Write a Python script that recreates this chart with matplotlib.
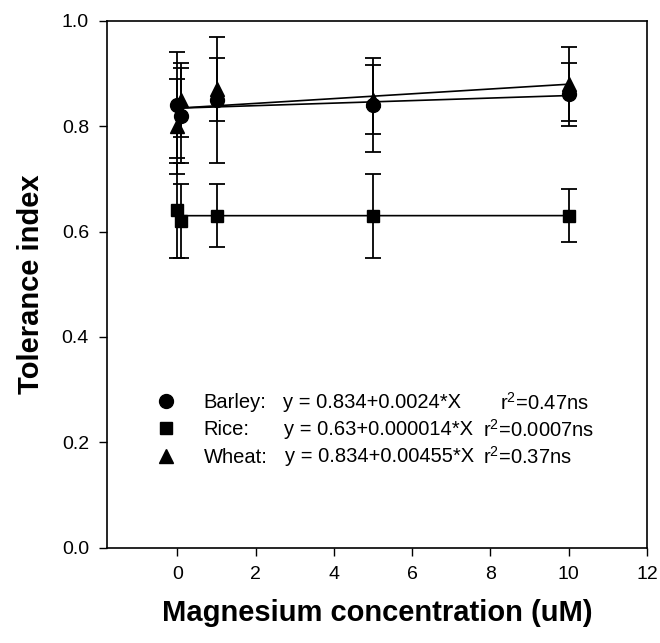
import matplotlib
matplotlib.use('Agg')
import matplotlib.pyplot as plt
import matplotlib.lines as mlines

plt.rcParams['font.family'] = ['Liberation Sans', 'DejaVu Sans']
plt.rcParams['mathtext.fontset'] = 'custom'
plt.rcParams['mathtext.rm'] = 'Liberation Sans'
plt.rcParams['mathtext.it'] = 'Liberation Sans:italic'

# magnesium concentrations (uM)
conc = [0, 0.1, 1, 5, 10]

# tolerance index per crop, with error bars
barley = [0.84, 0.82, 0.85, 0.84, 0.86]
barley_err = [0.10, 0.09, 0.12, 0.09, 0.06]
rice = [0.64, 0.62, 0.63, 0.63, 0.63]
rice_err = [0.09, 0.07, 0.06, 0.08, 0.05]
wheat = [0.80, 0.85, 0.87, 0.85, 0.88]
wheat_err = [0.09, 0.07, 0.06, 0.065, 0.07]

# regression fits: intercept, slope
fits = {'Barley': (0.834, 0.0024), 'Rice': (0.63, 0.000014), 'Wheat': (0.834, 0.00455)}
fit_x = [0, 10]

names = ['Barley:', 'Rice:', 'Wheat:']
equations = ['y = 0.834+0.0024*X', 'y = 0.63+0.000014*X', 'y = 0.834+0.00455*X']
r2_text = [r'r$^2$=0.47ns', r'r$^2$=0.0007ns', r'r$^2$=0.37ns']

fig = plt.figure(figsize=(6.6, 6.43), dpi=100)
ax = fig.add_axes([107 / 660, 1 - 547.7 / 643, 540 / 660, 527 / 643])

markers = {'Barley': 'o', 'Rice': 's', 'Wheat': '^'}
sizes = {'Barley': 10, 'Rice': 9, 'Wheat': 9.5}
data = {'Barley': (barley, barley_err), 'Rice': (rice, rice_err), 'Wheat': (wheat, wheat_err)}

handles = []
for crop in ['Barley', 'Rice', 'Wheat']:
    vals, errs = data[crop]
    b0, b1 = fits[crop]
    ax.plot(fit_x, [b0 + b1 * x for x in fit_x], color='k', lw=1.2, zorder=2)
    ax.errorbar(conc, vals, yerr=errs, fmt=markers[crop], color='k', ms=sizes[crop],
                ecolor='k', elinewidth=1.3, capsize=5.6, capthick=1.3, zorder=3)
    handles.append(mlines.Line2D([], [], color='k', marker=markers[crop], ls='none', ms=sizes[crop]))

ax.set_xlim(-1.8, 12)
ax.set_ylim(0, 1.0)
ax.set_xticks([0, 2, 4, 6, 8, 10, 12])
ax.set_yticks([0.0, 0.2, 0.4, 0.6, 0.8, 1.0])
ax.set_yticklabels(['0.0', '0.2', '0.4', '0.6', '0.8', '1.0'])
ax.tick_params(axis='both', direction='out', length=6, width=1, labelsize=14, pad=7)
ax.tick_params(top=False, right=False)
for sp in ax.spines.values():
    sp.set_linewidth(1.2)

ax.set_xlabel('Magnesium concentration (uM)', fontsize=21, fontweight='bold', labelpad=12)
ax.set_ylabel('Tolerance index', fontsize=21, fontweight='bold', labelpad=12)

leg = ax.legend(handles, names, loc='center left', bbox_to_anchor=(49.3 / 540, (547.7 - 430) / 527),
                frameon=False, fontsize=14.5, borderpad=0, handlelength=1, handletextpad=1.35,
                labelspacing=0.42, borderaxespad=0)

row_y = [(547.7 - 403) / 527, (547.7 - 430) / 527, (547.7 - 457) / 527]
eq_x = [0.326, 0.327, 0.330]
r2_x = [0.728, 0.697, 0.697]
for i in range(3):
    ax.text(eq_x[i], row_y[i], equations[i], transform=ax.transAxes, fontsize=14.5, va='center')
    ax.text(r2_x[i], row_y[i], r2_text[i], transform=ax.transAxes, fontsize=14.5, va='center')

fig.savefig('out.png', dpi=100)
